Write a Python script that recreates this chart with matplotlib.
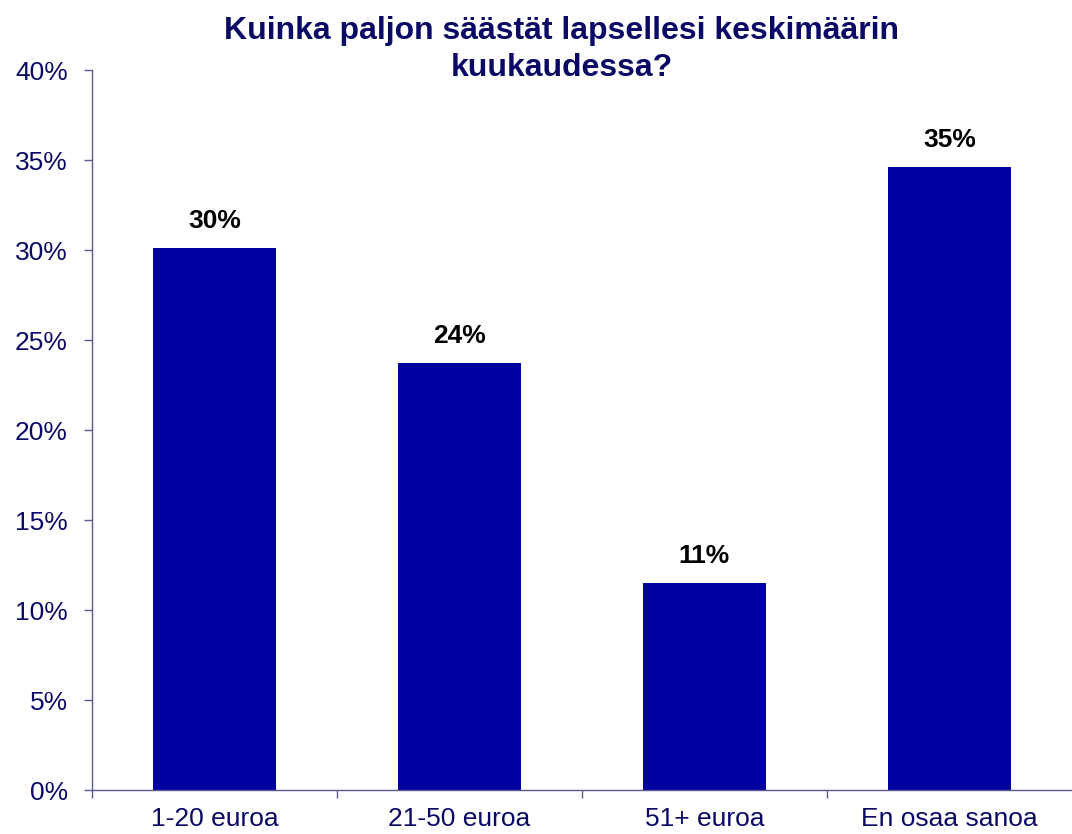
import matplotlib
matplotlib.use("Agg")
import matplotlib.pyplot as plt
from matplotlib.ticker import FixedLocator, PercentFormatter

categories = ["1-20 euroa", "21-50 euroa", "51+ euroa", "En osaa sanoa"]
values = [30.1, 23.7, 11.5, 34.6]
labels = ["30%", "24%", "11%", "35%"]
title = "Kuinka paljon säästät lapsellesi keskimäärin\nkuukaudessa?"

plt.rcParams['font.family'] = ['Liberation Sans', 'DejaVu Sans']
navy = "#0A0A66"
axis_col = "#5A5A8C"
bar_col = "#0000A0"

fig = plt.figure(figsize=(10.72, 8.34), dpi=100)
ax = fig.add_axes([92/1072, 1-790/834, 1-92/1072, (790-70)/834])

x = list(range(len(categories)))
ax.bar(x, values, width=0.5, color=bar_col, zorder=2)
for xi, v, lab in zip(x, values, labels):
    ax.annotate(lab, (xi, v), xytext=(0, 11), textcoords="offset points",
                ha="center", va="bottom", fontsize=19, fontweight="bold", color="black")

ax.set_xlim(-0.5, len(categories) - 0.5)
ax.set_ylim(0, 40)
ax.set_yticks(range(0, 41, 5))
ax.yaxis.set_major_formatter(PercentFormatter(decimals=0))
ax.set_xticks(x)
ax.set_xticklabels(categories)
ax.xaxis.set_minor_locator(FixedLocator([i - 0.5 for i in range(len(categories))]))
ax.tick_params(axis="x", which="major", length=0, pad=12, labelsize=19, labelcolor=navy)
ax.tick_params(axis="x", which="minor", length=6, direction="out", color=axis_col, width=1)
ax.tick_params(axis="y", length=6, direction="out", color=axis_col, width=1, pad=11.5,
               labelsize=19, labelcolor=navy)
for s in ["top", "right"]:
    ax.spines[s].set_visible(False)
for s in ["left", "bottom"]:
    ax.spines[s].set_color(axis_col)
    ax.spines[s].set_linewidth(1)

fig.text(0.524, 0.981, title, ha="center", va="top", fontsize=23,
         fontweight="bold", color=navy, linespacing=1.3)

fig.savefig("out.png", dpi=100)
